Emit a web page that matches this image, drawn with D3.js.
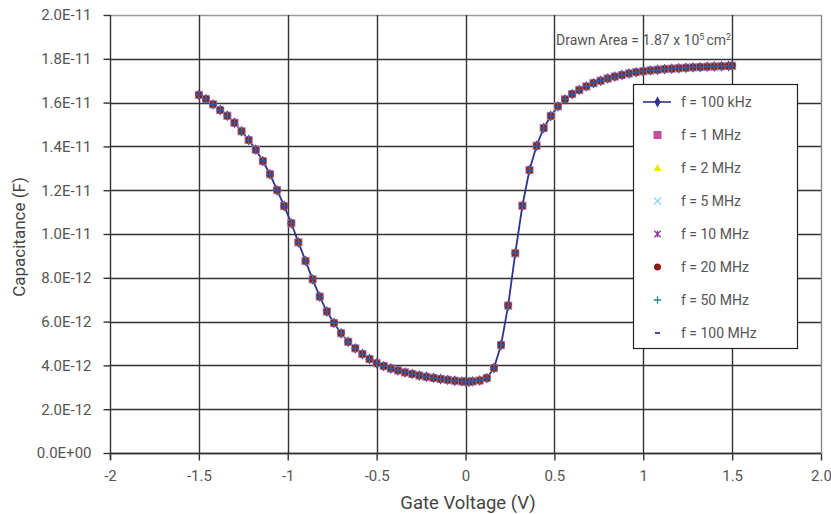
<!DOCTYPE html>
<html>
<head>
<meta charset="utf-8">
<script src="https://cdn.jsdelivr.net/npm/d3@7/dist/d3.min.js"></script>
<style>
  html, body { margin: 0; padding: 0; background: #fff; }
  svg { display: block; font-family: Roboto, "Noto Sans", sans-serif; }
</style>
</head>
<body>
<svg id="chart" width="831" height="514"></svg>
<script>
// ---- Data ----
const voltage = [
  -1.50, -1.46, -1.42, -1.38, -1.34, -1.30, -1.26, -1.22, -1.18, -1.14,
  -1.10, -1.06, -1.02, -0.98, -0.94, -0.90, -0.86, -0.82, -0.78, -0.74,
  -0.70, -0.66, -0.62, -0.58, -0.54, -0.50, -0.46, -0.42, -0.38, -0.34,
  -0.30, -0.26, -0.22, -0.18, -0.14, -0.10, -0.06, -0.02, 0.00, 0.02,
  0.04, 0.08, 0.12, 0.16, 0.20, 0.24, 0.28, 0.32, 0.36, 0.40,
  0.44, 0.48, 0.52, 0.56, 0.60, 0.64, 0.68, 0.72, 0.76, 0.80,
  0.84, 0.88, 0.92, 0.96, 1.00, 1.04, 1.08, 1.12, 1.16, 1.20,
  1.24, 1.28, 1.32, 1.36, 1.40, 1.44, 1.48, 1.50
];
// capacitance in pF (x 1e-12 F)
const capacitancePF = [
  16.35, 16.16, 15.92, 15.66, 15.40, 15.08, 14.69, 14.29, 13.85, 13.33,
  12.73, 12.00, 11.28, 10.49, 9.62, 8.77, 7.93, 7.14, 6.46, 5.94,
  5.47, 5.08, 4.78, 4.52, 4.29, 4.10, 3.97, 3.86, 3.77, 3.68,
  3.61, 3.54, 3.48, 3.43, 3.38, 3.34, 3.30, 3.27, 3.26, 3.25,
  3.27, 3.31, 3.42, 3.88, 4.93, 6.73, 9.12, 11.29, 12.92, 14.03,
  14.84, 15.39, 15.83, 16.15, 16.39, 16.58, 16.74, 16.89, 17.00, 17.10,
  17.19, 17.26, 17.33, 17.39, 17.43, 17.47, 17.50, 17.53, 17.55, 17.57,
  17.59, 17.61, 17.62, 17.64, 17.65, 17.66, 17.67, 17.68
];
const seriesNames = ["f = 100 kHz", "f = 1 MHz", "f = 2 MHz", "f = 5 MHz",
                     "f = 10 MHz", "f = 20 MHz", "f = 50 MHz", "f = 100 MHz"];
const seriesMarkers = ["diamond", "square", "triangle", "x", "asterisk", "circle", "plus", "dash"];
const seriesColors = ["#2f348f", "#c24f9e", "#f2e400", "#86d6ee", "#8c3a98", "#8e1b1b", "#23898c", "#3b4cab"];

const xTickValues = [-2, -1.5, -1, -0.5, 0, 0.5, 1, 1.5, 2];
const xTickLabels = ["-2", "-1.5", "-1", "-0.5", "0", "0.5", "1", "1.5", "2.0"];
const yTickValues = [0, 2e-12, 4e-12, 6e-12, 8e-12, 1e-11, 1.2e-11, 1.4e-11, 1.6e-11, 1.8e-11, 2e-11];
const yTickLabels = ["0.0E+00", "2.0E-12", "4.0E-12", "6.0E-12", "8.0E-12", "1.0E-11",
                     "1.2E-11", "1.4E-11", "1.6E-11", "1.8E-11", "2.0E-11"];

// ---- Layout ----
const svg = d3.select("#chart");
const pLeft = 110, pRight = 821, pTop = 15, pBottom = 453;
const x = d3.scaleLinear().domain([-2, 2]).range([pLeft, pRight]);
const y = d3.scaleLinear().domain([0, 2e-11]).range([pBottom, pTop]);
const textColor = "#555";

const points = voltage.map((v, i) => ({ v: v, c: capacitancePF[i] * 1e-12 }));

// Grid
const grid = svg.append("g");
grid.selectAll("line.h").data(yTickValues).join("line")
  .attr("x1", pLeft).attr("x2", pRight)
  .attr("y1", d => Math.round(y(d)) + 0.5).attr("y2", d => Math.round(y(d)) + 0.5)
  .attr("stroke", (d, i) => i === yTickValues.length - 1 ? "#999" : "#333")
  .attr("stroke-width", 1.4);
grid.selectAll("line.v").data(xTickValues.slice(1)).join("line")
  .attr("x1", d => Math.round(x(d)) + 0.5).attr("x2", d => Math.round(x(d)) + 0.5)
  .attr("y1", pTop).attr("y2", pBottom)
  .attr("stroke", (d, i, n) => i === n.length - 1 ? "#888" : "#333")
  .attr("stroke-width", 1.4);

// Axes
const yAxis = d3.axisLeft(y).tickValues(yTickValues)
  .tickFormat((d, i) => yTickLabels[i]).tickSize(7).tickPadding(12);
const gy = svg.append("g").attr("transform", `translate(${pLeft + 0.5},0)`).call(yAxis);
const xAxis = d3.axisBottom(x).tickValues(xTickValues)
  .tickFormat((d, i) => xTickLabels[i]).tickSize(7).tickPadding(10);
const gx = svg.append("g").attr("transform", `translate(0,${pBottom + 0.5})`).call(xAxis);
[gx, gy].forEach(g => {
  g.select(".domain").attr("stroke", "#333").attr("stroke-width", 1.4);
  g.selectAll(".tick line").attr("stroke", "#333").attr("stroke-width", 1.4);
  g.selectAll(".tick text").attr("fill", textColor).style("font-size", "15px")
    .style("font-family", "Roboto, sans-serif");
});
gx.select(".domain").remove();
svg.append("line").attr("x1", pLeft).attr("x2", pRight)
  .attr("y1", pBottom + 0.5).attr("y2", pBottom + 0.5).attr("stroke", "#333").attr("stroke-width", 1.4);
gy.select(".domain").attr("d", `M0,${pTop}V${pBottom + 7}`);

// Axis titles
svg.append("text").attr("x", 468).attr("y", 509)
  .attr("text-anchor", "middle").attr("fill", "#444").style("font-size", "18.5px")
  .text("Gate Voltage (V)");
svg.append("text").attr("transform", `translate(25,237) rotate(-90)`)
  .attr("text-anchor", "middle").attr("fill", "#444").style("font-size", "17px")
  .text("Capacitance (F)");

// Annotation
const ann = svg.append("text").attr("x", 556).attr("y", 45).attr("fill", "#555")
  .style("font-size", "14px");
ann.append("tspan").text("Drawn Area = 1.87 x 10");
ann.append("tspan").attr("dy", -5).style("font-size", "9px").text("5");
ann.append("tspan").attr("dy", 5).attr("dx", 2).text("cm");
ann.append("tspan").attr("dy", -5).style("font-size", "9px").text("2");

// Marker drawing
function drawMarker(g, type, color, cx, cy) {
  switch (type) {
    case "diamond":
      g.append("path").attr("d", d3.symbol(d3.symbolDiamond, 34)()).attr("transform", `translate(${cx},${cy})`).attr("fill", color);
      break;
    case "square":
      g.append("rect").attr("x", cx - 4).attr("y", cy - 4).attr("width", 8).attr("height", 8).attr("fill", color);
      break;
    case "triangle":
      g.append("path").attr("d", `M${cx},${cy - 4}L${cx + 4},${cy + 3}L${cx - 4},${cy + 3}Z`).attr("fill", color);
      break;
    case "x":
      g.append("path").attr("d", `M${cx - 3.5},${cy - 3.5}L${cx + 3.5},${cy + 3.5}M${cx - 3.5},${cy + 3.5}L${cx + 3.5},${cy - 3.5}`)
        .attr("stroke", color).attr("stroke-width", 1.3).attr("fill", "none");
      break;
    case "asterisk":
      g.append("path").attr("d", `M${cx - 3.2},${cy - 3.2}L${cx + 3.2},${cy + 3.2}M${cx - 3.2},${cy + 3.2}L${cx + 3.2},${cy - 3.2}M${cx},${cy - 3.5}L${cx},${cy + 3.5}`)
        .attr("stroke", color).attr("stroke-width", 1.3).attr("fill", "none");
      break;
    case "circle":
      g.append("circle").attr("cx", cx).attr("cy", cy).attr("r", 3.5).attr("fill", color);
      break;
    case "plus":
      g.append("path").attr("d", `M${cx - 3.8},${cy}L${cx + 3.8},${cy}M${cx},${cy - 3.8}L${cx},${cy + 3.8}`)
        .attr("stroke", color).attr("stroke-width", 1.3).attr("fill", "none");
      break;
    case "dash":
      g.append("rect").attr("x", cx - 2.5).attr("y", cy - 1).attr("width", 5).attr("height", 2).attr("fill", color);
      break;
  }
}

// Series
const plot = svg.append("g");
plot.append("path").datum(points)
  .attr("d", d3.line().x(d => x(d.v)).y(d => y(d.c)))
  .attr("fill", "none").attr("stroke", seriesColors[0]).attr("stroke-width", 1.8);
seriesNames.forEach((name, si) => {
  const g = plot.append("g");
  points.forEach(p => drawMarker(g, seriesMarkers[si], seriesColors[si], x(p.v), y(p.c)));
});

// Legend
const lg = svg.append("g");
lg.append("rect").attr("x", 633.5).attr("y", 84.5).attr("width", 164).attr("height", 264)
  .attr("fill", "#fff").attr("stroke", "#222").attr("stroke-width", 1.2);
seriesNames.forEach((name, i) => {
  const cy = 102 + i * 33;
  if (i === 0) {
    lg.append("line").attr("x1", 643).attr("x2", 671).attr("y1", cy).attr("y2", cy)
      .attr("stroke", seriesColors[0]).attr("stroke-width", 1.6);
  }
  drawMarker(lg, seriesMarkers[i], seriesColors[i], 657.5, cy);
  lg.append("text").attr("x", 681).attr("y", cy + 5).attr("fill", "#555")
    .style("font-size", "14px").text(name);
});
</script>
</body>
</html>
